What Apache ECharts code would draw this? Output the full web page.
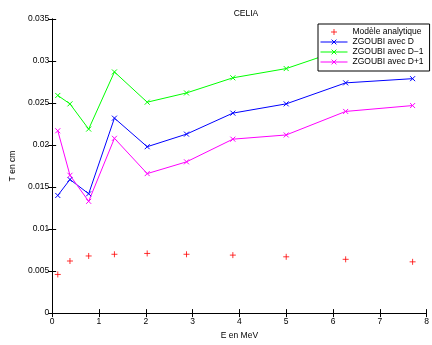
<!DOCTYPE html>
<html>
<head>
<meta charset="utf-8">
<script src="https://cdn.jsdelivr.net/npm/echarts@6/dist/echarts.min.js"></script>
<style>
  html, body { margin: 0; padding: 0; background: #fff; }
  #chart { width: 432px; height: 345px; }
</style>
</head>
<body>
<div id="chart"></div>
<script>
// energies (MeV)
const energy = [0.12, 0.38, 0.78, 1.33, 2.03, 2.87, 3.86, 5.0, 6.27, 7.7];
// T en cm
const modele = [0.0046, 0.0062, 0.0068, 0.0070, 0.0071, 0.0070, 0.0069, 0.0067, 0.0064, 0.0061];
const zgoubiD = [0.0140, 0.0159, 0.0142, 0.0232, 0.0198, 0.0213, 0.0238, 0.0249, 0.0274, 0.0279];
const zgoubiDm1 = [0.0259, 0.0249, 0.0219, 0.0287, 0.0251, 0.0262, 0.0280, 0.0291, 0.0315, 0.0321];
const zgoubiDp1 = [0.0217, 0.0164, 0.0133, 0.0208, 0.0166, 0.0180, 0.0207, 0.0212, 0.0240, 0.0247];

const font = 'Liberation Sans, Arial, sans-serif';
const fs = 8.5;
const crossX = 'path://M0,0L10,10M10,0L0,10';
const plus = 'path://M5,0L5,10M0,5L10,5';

function pairs(ys) {
    return energy.map(function (x, i) { return [x, ys[i]]; });
}

function lineSerie(name, color, ys) {
    return {
        name: name,
        type: 'line',
        data: pairs(ys),
        symbol: crossX,
        symbolSize: 5,
        lineStyle: { color: color, width: 1 },
        itemStyle: { color: 'rgba(0,0,0,0)', borderColor: color, borderWidth: 1 },
        emphasis: { disabled: true },
        animation: false
    };
}

let chart = echarts.init(document.getElementById('chart'));
let tickLbl = function (v) { return v === 0 ? '0' : String(+v.toFixed(3)); };
let option = {
    title: {
        text: 'CELIA',
        left: 241, top: 4,
        textAlign: 'center',
        textStyle: { fontFamily: font, fontSize: fs, fontWeight: 'normal', color: '#000' }
    },
    legend: {
        left: 318, top: 24,
        orient: 'vertical',
        itemWidth: 27, itemHeight: 6, itemGap: 0,
        padding: [3, 6, 4, 2],
        borderColor: '#000', borderWidth: 1, borderRadius: 0,
        backgroundColor: '#fff',
        lineStyle: { width: 1 },
        itemStyle: { borderWidth: 1 },
        textStyle: { fontFamily: font, fontSize: fs, color: '#000', lineHeight: 10 },
        data: ['Modèle analytique', 'ZGOUBI avec D', 'ZGOUBI avec D−1', 'ZGOUBI avec D+1']
    },
    grid: { left: 50, right: 1, top: 19, bottom: 25 },
    xAxis: [{
        type: 'value', min: 0, max: 8, interval: 1,
        name: 'E en MeV', nameLocation: 'middle', nameGap: 15,
        nameTextStyle: { fontFamily: font, fontSize: fs, color: '#000' },
        axisLine: { lineStyle: { color: '#000', width: 1 } },
        axisTick: { inside: true, length: 4, lineStyle: { color: '#000' } },
        axisLabel: { fontFamily: font, fontSize: fs, color: '#000', margin: 4 },
        splitLine: { show: false }
    }, {
        type: 'value', min: 0, max: 8, interval: 1, position: 'top',
        axisLine: { lineStyle: { color: '#000', width: 1 } },
        axisTick: { inside: true, length: 4, lineStyle: { color: '#000' } },
        axisLabel: { show: false },
        splitLine: { show: false }
    }],
    yAxis: [{
        type: 'value', min: 0, max: 0.035, interval: 0.005,
        name: 'T en cm', nameLocation: 'middle', nameGap: 27,
        nameTextStyle: { fontFamily: font, fontSize: fs, color: '#000' },
        axisLine: { lineStyle: { color: '#000', width: 1 } },
        axisTick: { inside: true, length: 4, lineStyle: { color: '#000' } },
        axisLabel: { fontFamily: font, fontSize: fs, color: '#000', margin: 3, formatter: tickLbl },
        splitLine: { show: false }
    }, {
        type: 'value', min: 0, max: 0.035, interval: 0.005, position: 'right',
        axisLine: { show: true, lineStyle: { color: '#000', width: 1 } },
        axisTick: { show: true, inside: true, length: 4, lineStyle: { color: '#000' } },
        axisLabel: { show: false },
        splitLine: { show: false }
    }],
    series: [
        {
            name: 'Modèle analytique',
            type: 'scatter',
            data: pairs(modele),
            symbol: plus,
            symbolSize: 6,
            itemStyle: { color: 'rgba(0,0,0,0)', borderColor: '#ff0000', borderWidth: 1 },
            emphasis: { disabled: true },
            animation: false
        },
        lineSerie('ZGOUBI avec D', '#0000ff', zgoubiD),
        lineSerie('ZGOUBI avec D−1', '#00ff00', zgoubiDm1),
        lineSerie('ZGOUBI avec D+1', '#ff00ff', zgoubiDp1)
    ]
};
chart.setOption(option);
</script>
</body>
</html>
